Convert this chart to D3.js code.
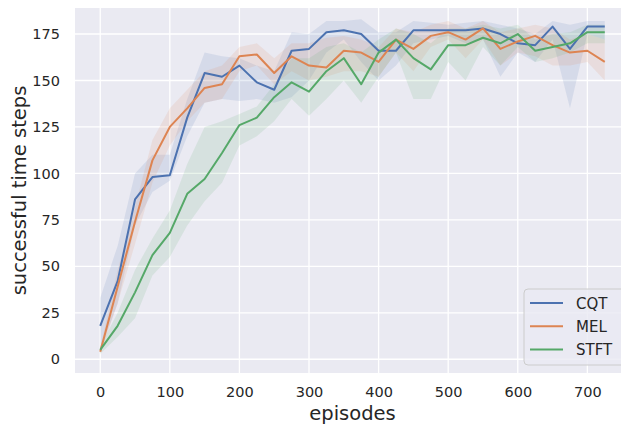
<!DOCTYPE html>
<html>
<head>
<meta charset="utf-8">
<script src="https://cdn.jsdelivr.net/npm/d3@7"></script>
<style>
  body { margin: 0; background: #fff; }
  svg { display: block; font-family: "DejaVu Sans", sans-serif; }
</style>
</head>
<body>
<div id="chart"></div>
<script>
// episodes (x axis)
const episodes = d3.range(0, 750, 25);

// mean curves
const cqt  = [18, 42, 86, 98, 99, 130, 154, 152, 158, 149, 145, 166, 167, 176, 177, 175, 166, 166, 177, 177, 177, 177, 178, 175, 170, 169, 179, 167, 179, 179];
const mel  = [4, 39, 74, 107, 125, 135, 146, 148, 163, 164, 154, 163, 158, 157, 166, 165, 160, 172, 167, 174, 176, 172, 178, 167, 171, 174, 169, 165, 166, 160];
const stft = [5, 18, 36, 56, 68, 89, 97, 111, 126, 130, 141, 149, 144, 155, 162, 148, 165, 172, 162, 156, 169, 169, 173, 170, 175, 166, 168, 170, 176, 176];

// confidence band (lower / upper)
const cqtLo  = [5, 30, 72, 90, 96, 120, 138, 140, 139, 140, 138, 141, 150, 165, 172, 160, 150, 158, 170, 172, 174, 170, 172, 152, 165, 160, 172, 135, 175, 172];
const cqtHi  = [33, 61, 100, 110, 110, 140, 165, 163, 162, 158, 155, 176, 175, 182, 182, 183, 176, 176, 182, 181, 180, 181, 182, 180, 178, 175, 182, 180, 182, 182];
const melLo  = [3, 30, 62, 95, 115, 128, 138, 140, 155, 158, 148, 155, 150, 152, 155, 155, 152, 165, 155, 168, 172, 162, 172, 158, 165, 163, 158, 158, 160, 150];
const melHi  = [6, 48, 82, 118, 135, 145, 155, 158, 168, 170, 162, 170, 170, 173, 174, 172, 168, 178, 176, 180, 182, 178, 182, 176, 178, 180, 178, 172, 175, 172];
const stftLo = [3, 12, 22, 45, 55, 72, 85, 95, 115, 120, 128, 140, 131, 140, 150, 138, 152, 165, 140, 140, 160, 150, 168, 158, 168, 160, 162, 165, 170, 170];
const stftHi = [7, 25, 48, 65, 80, 105, 125, 128, 132, 136, 148, 162, 162, 168, 170, 165, 172, 178, 175, 170, 178, 178, 180, 178, 180, 172, 175, 176, 180, 180];

const seriesNames = ["CQT", "MEL", "STFT"];
const colors = ["#4c72b0", "#dd8452", "#55a868"];

const xTicks = [0, 100, 200, 300, 400, 500, 600, 700];
const yTicks = [0, 25, 50, 75, 100, 125, 150, 175];

const series = [
  { name: seriesNames[0], mean: cqt, lo: cqtLo, hi: cqtHi, color: colors[0] },
  { name: seriesNames[1], mean: mel, lo: melLo, hi: melHi, color: colors[1] },
  { name: seriesNames[2], mean: stft, lo: stftLo, hi: stftHi, color: colors[2] }
];

const W = 621, H = 426;
const plot = { left: 75, right: 630, top: 8, bottom: 373 };

const svg = d3.select("#chart").append("svg")
  .attr("width", W).attr("height", H);

const x = d3.scaleLinear().domain([-36.25, 761.25]).range([plot.left, plot.right]);
const y = d3.scaleLinear().domain([-7.4, 189]).range([plot.bottom, plot.top]);

svg.append("defs").append("clipPath").attr("id", "clip")
  .append("rect")
  .attr("x", plot.left).attr("y", plot.top)
  .attr("width", plot.right - plot.left).attr("height", plot.bottom - plot.top);

// fond
svg.append("rect")
  .attr("x", plot.left).attr("y", plot.top)
  .attr("width", plot.right - plot.left).attr("height", plot.bottom - plot.top)
  .attr("fill", "#eaeaf2");

// grille
const grid = svg.append("g").attr("clip-path", "url(#clip)");
grid.selectAll(".gx").data(xTicks).enter().append("line")
  .attr("x1", d => x(d)).attr("x2", d => x(d))
  .attr("y1", plot.top).attr("y2", plot.bottom)
  .attr("stroke", "#fff").attr("stroke-width", 1.3);
grid.selectAll(".gy").data(yTicks).enter().append("line")
  .attr("x1", plot.left).attr("x2", plot.right)
  .attr("y1", d => y(d)).attr("y2", d => y(d))
  .attr("stroke", "#fff").attr("stroke-width", 1.3);

const g = svg.append("g").attr("clip-path", "url(#clip)");

const area = d3.area()
  .x((d, i) => x(episodes[i]))
  .y0(d => y(d[0]))
  .y1(d => y(d[1]));

const line = d3.line()
  .x((d, i) => x(episodes[i]))
  .y(d => y(d));

series.forEach(s => {
  g.append("path")
    .datum(s.lo.map((v, i) => [v, s.hi[i]]))
    .attr("d", area)
    .attr("fill", s.color)
    .attr("fill-opacity", 0.13);
});

series.forEach(s => {
  g.append("path")
    .datum(s.mean)
    .attr("d", line)
    .attr("fill", "none")
    .attr("stroke", s.color)
    .attr("stroke-width", 2)
    .attr("stroke-linejoin", "round");
});

// axes
const xAxis = svg.append("g")
  .attr("transform", `translate(0,${plot.bottom})`)
  .call(d3.axisBottom(x).tickValues(xTicks).tickSize(0).tickPadding(14));
const yAxis = svg.append("g")
  .attr("transform", `translate(${plot.left},0)`)
  .call(d3.axisLeft(y).tickValues(yTicks).tickSize(0).tickPadding(15));
[xAxis, yAxis].forEach(a => {
  a.select(".domain").remove();
  a.selectAll("text")
    .attr("font-family", "DejaVu Sans, sans-serif")
    .attr("font-size", 14.5)
    .attr("fill", "#262626");
});

svg.append("text")
  .attr("x", (plot.left + plot.right) / 2)
  .attr("y", 420)
  .attr("text-anchor", "middle")
  .attr("font-size", 19.5)
  .attr("fill", "#262626")
  .text("episodes");

svg.append("text")
  .attr("transform", `translate(25.5,${(plot.top + plot.bottom) / 2}) rotate(-90)`)
  .attr("text-anchor", "middle")
  .attr("font-size", 19.5)
  .attr("fill", "#262626")
  .text("successful time steps");

// légende
const leg = svg.append("g").attr("transform", "translate(524,289)");
leg.append("rect")
  .attr("width", 104).attr("height", 76)
  .attr("rx", 4)
  .attr("fill", "#eaeaf2").attr("fill-opacity", 0.8)
  .attr("stroke", "#cccccc");
series.forEach((s, i) => {
  const yy = 14 + i * 23.3;
  leg.append("line")
    .attr("x1", 6).attr("x2", 39)
    .attr("y1", yy).attr("y2", yy)
    .attr("stroke", s.color).attr("stroke-width", 2);
  leg.append("text")
    .attr("x", 52).attr("y", yy + 5.5)
    .attr("font-size", 15)
    .attr("fill", "#262626")
    .text(s.name);
});
</script>
</body>
</html>
